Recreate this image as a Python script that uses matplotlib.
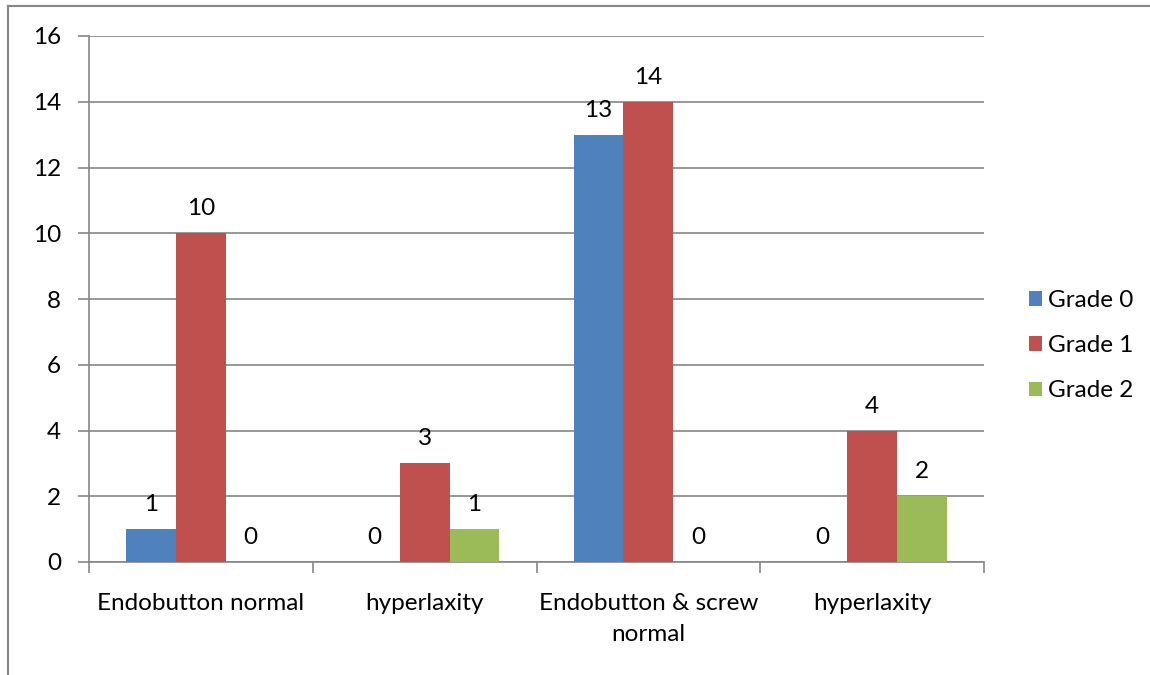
import matplotlib
matplotlib.use("Agg")
import matplotlib.pyplot as plt
import numpy as np
from matplotlib.lines import Line2D

categories = ["Endobutton normal", "hyperlaxity", "Endobutton & screw\nnormal", "hyperlaxity"]
series_names = ["Grade 0", "Grade 1", "Grade 2"]
grade0 = [1, 0, 13, 0]
grade1 = [10, 3, 14, 4]
grade2 = [0, 1, 0, 2]
colors = ["#4F81BD", "#C0504D", "#9BBB59"]
yticks = [0, 2, 4, 6, 8, 10, 12, 14, 16]

plt.rcParams['font.family'] = ['Lato', 'DejaVu Sans']
FS = 17.5

fig = plt.figure(figsize=(11.5, 6.75), dpi=100)
ax = fig.add_axes([89/1150, 1-562/675, (984-89)/1150, (562-36)/675])

x = np.arange(len(categories))
bw = 0.223
grid_c = "#868686"
for i, (vals, name, c) in enumerate(zip([grade0, grade1, grade2], series_names, colors)):
    pos = x + (i - 1) * bw
    ax.bar(pos, vals, width=bw, color=c, label=name, zorder=3)
    for p, v in zip(pos, vals):
        ax.annotate(str(v), (p, v), xytext=(0, 10), textcoords="offset points",
                    ha="center", va="bottom", fontsize=FS, color="black")

ax.set_xlim(-0.5, len(categories) - 0.5)
ax.set_ylim(0, 16)
ax.set_yticks(yticks)
ax.set_yticklabels([str(t) for t in yticks], fontsize=FS)
ax.tick_params(axis='y', length=8, color=grid_c, width=1.2, pad=12)
ax.yaxis.grid(True, color=grid_c, linewidth=1.2, zorder=0)
ax.set_axisbelow(True)

ax.set_xticks(x)
ax.set_xticklabels(categories, fontsize=FS, linespacing=1.6)
ax.tick_params(axis='x', which='major', length=0, pad=22)
ax.set_xticks(np.arange(len(categories) + 1) - 0.5, minor=True)
ax.tick_params(axis='x', which='minor', length=8, color=grid_c, width=1.2)

for s in ["top", "right"]:
    ax.spines[s].set_visible(False)
for s in ["left", "bottom"]:
    ax.spines[s].set_color(grid_c)
    ax.spines[s].set_linewidth(1.2)

leg = fig.legend(loc="upper left", bbox_to_anchor=(1007/1150, 1-268/675), frameon=False,
                 fontsize=FS, handlelength=0.55, handleheight=0.55, handletextpad=0.25,
                 labelspacing=1.0)

fig.add_artist(Line2D([8/1150, 1], [1-6/675, 1-6/675], color="#878787", linewidth=1.5, transform=fig.transFigure))
fig.add_artist(Line2D([8/1150, 8/1150], [1-6/675, 0], color="#878787", linewidth=1.5, transform=fig.transFigure))

fig.savefig("out.png", dpi=100)
